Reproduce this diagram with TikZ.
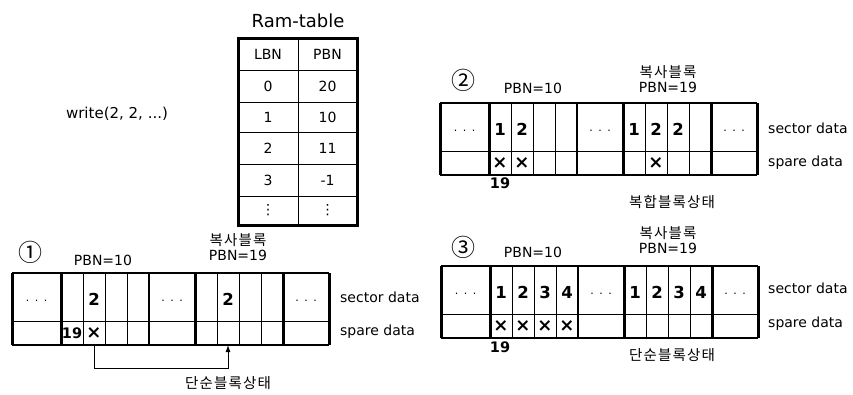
\documentclass[tikz,border=0pt]{standalone}
\usepackage{fontspec}
\setmainfont{DejaVu Sans}
\newfontfamily\kr[LetterSpace=8]{Noto Sans CJK KR}
\newfontfamily\krc{Noto Sans CJK KR}
\usetikzlibrary{arrows.meta}

\tikzset{
  lbl/.style={font=\fontsize{14}{16}\selectfont, inner sep=0pt},
  krl/.style={font=\kr\fontsize{14.5}{16}\selectfont, inner sep=0pt},
  num/.style={font=\bfseries\fontsize{16.5}{18}\selectfont, inner sep=0pt},
  cross/.style={font=\bfseries\fontsize{18}{20}\selectfont, inner sep=0pt},
  dotsl/.style={font=\fontsize{11}{13}\selectfont, inner sep=0pt},
  circnum/.style={font=\krc\fontsize{24}{26}\selectfont, inner sep=0pt},
  thinline/.style={line width=0.9pt},
  midline/.style={line width=1.6pt},
  thickline/.style={line width=3pt},
  edgeline/.style={line width=1.3pt},
}

% One strip of flash blocks: dots | data block (4 pages) | dots | copy block (4 pages) | dots
\newcommand\blockstrip[3]{%
  \begin{scope}[shift={(#2,#3)}]
    \draw[edgeline] (0,0) -- (317,0) (0,72) -- (317,72);
    \draw[thinline] (0,48) -- (317,48);
    \foreach \x in {71,93,115,205,227,249} \draw[thinline] (\x,0) -- (\x,72);
    \draw[midline] (137,0) -- (137,72);
    \foreach \x in {0,49,183,271,317} \draw[thickline] (\x,0) -- (\x,72);
    \foreach \i/\x in {1/60,2/82,3/104,4/126} {
      \coordinate (#1-d\i-s) at (\x,26);
      \coordinate (#1-d\i-p) at (\x,60);
      \coordinate (#1-d\i-b) at (\x,72);
    }
    \foreach \i/\x in {1/194,2/216,3/238,4/260} {
      \coordinate (#1-c\i-s) at (\x,26);
      \coordinate (#1-c\i-p) at (\x,60);
      \coordinate (#1-c\i-b) at (\x,72);
    }
    \node[dotsl] (#1-dots1) at (24.5,28) {.\,\,\,.\,\,\,.};
    \node[dotsl] (#1-dots2) at (160,28) {.\,\,\,.\,\,\,.};
    \node[dotsl] (#1-dots3) at (294,28) {.\,\,\,.\,\,\,.};
  \end{scope}}

\begin{document}
\begin{tikzpicture}[x=1pt,y=-1pt]
  \useasboundingbox (0,0) rectangle (853,394);
  \fill[white] (0,0) rectangle (853,394);

  % ---- RAM mapping table ----
  \node[lbl, font=\fontsize{18}{20}\selectfont] (ramtitle) at (298,21) {Ram-table};
  \draw[thinline] (298,38) -- (298,225);
  \foreach \y in {70,102,132,164,196} \draw[thinline] (238,\y) -- (357,\y);
  \draw[thickline] (238,38) rectangle (357,225);
  \node[lbl] (hl) at (268,54) {LBN};
  \node[lbl] (hp) at (327.5,54) {PBN};
  \node[lbl] (l0) at (268,86) {0};   \node[lbl] (p0) at (327.5,86) {20};
  \node[lbl] (l1) at (268,117) {1};  \node[lbl] (p1) at (327.5,117) {10};
  \node[lbl] (l2) at (268,148) {2};  \node[lbl] (p2) at (327.5,148) {11};
  \node[lbl] (l3) at (268,180) {3};  \node[lbl] (p3) at (327.5,180) {-1};
  \node[lbl] (l4) at (268,210) {⋮};  \node[lbl] (p4) at (327.5,210) {⋮};

  \node[lbl, font=\fontsize{15}{17}\selectfont] (writecall) at (117,114) {write(2, 2, ...)};

  % ---- state 1: simple block ----
  \blockstrip{s1}{12}{273}
  \node[circnum] (n1) at (30,252) {①};
  \node[lbl] (s1pbn) at (103,260) {PBN=10};
  \node[krl] (s1copy) at (238,240) {복사블록};
  \node[lbl] (s1cpbn) at (238,255) {PBN=19};
  \node[lbl, anchor=west] (s1sec) at (340,297) {sector data};
  \node[lbl, anchor=west] (s1spa) at (340,332) {spare data};
  \node[num] (s1a) at (s1-d2-s) {2};
  \node[num] (s1b) at (s1-c2-s) {2};
  \node[num, font=\bfseries\fontsize{14.5}{16}\selectfont] (s1link) at (s1-d1-p) {19};
  \node[cross] (s1x) at (s1-d2-p) {×};
  \draw[line width=0.9pt, -{Latex[length=7pt,width=5pt]}]
    (s1-d2-b) -- ++(0,23) -| (s1-c2-b);
  \node[krl] (s1state) at (228,383) {단순블록상태};

  % ---- state 2: compound block ----
  \blockstrip{s2}{440}{103}
  \node[circnum] (n2) at (463,80) {②};
  \node[lbl] (s2pbn) at (533,88) {PBN=10};
  \node[krl] (s2copy) at (668,72) {복사블록};
  \node[lbl] (s2cpbn) at (668,87) {PBN=19};
  \node[lbl, anchor=west] (s2sec) at (768,128) {sector data};
  \node[lbl, anchor=west] (s2spa) at (768,163) {spare data};
  \node[num] (s2a1) at (s2-d1-s) {1};
  \node[num] (s2a2) at (s2-d2-s) {2};
  \node[cross] (s2x1) at (s2-d1-p) {×};
  \node[cross] (s2x2) at (s2-d2-p) {×};
  \node[num] (s2b1) at (s2-c1-s) {1};
  \node[num] (s2b2) at (s2-c2-s) {2};
  \node[num] (s2b3) at (s2-c3-s) {2};
  \node[cross] (s2y2) at (s2-c2-p) {×};
  \node[num, font=\bfseries\fontsize{14.5}{16}\selectfont] (s2link) at (500,183) {19};
  \node[krl] (s2state) at (672,202) {복합블록상태};

  % ---- state 3: back to simple block ----
  \blockstrip{s3}{441}{266}
  \node[circnum] (n3) at (463,247) {③};
  \node[lbl] (s3pbn) at (533,252) {PBN=10};
  \node[krl] (s3copy) at (668,233) {복사블록};
  \node[lbl] (s3cpbn) at (668,248) {PBN=19};
  \node[lbl, anchor=west] (s3sec) at (768,288) {sector data};
  \node[lbl, anchor=west] (s3spa) at (768,324) {spare data};
  \foreach \i in {1,2,3,4} {
    \node[num] (s3a\i) at (s3-d\i-s) {\i};
    \node[cross] (s3x\i) at (s3-d\i-p) {×};
    \node[num] (s3b\i) at (s3-c\i-s) {\i};
  }
  \node[num, font=\bfseries\fontsize{14.5}{16}\selectfont] (s3link) at (500,347) {19};
  \node[krl] (s3state) at (672,355) {단순블록상태};
\end{tikzpicture}
\end{document}
